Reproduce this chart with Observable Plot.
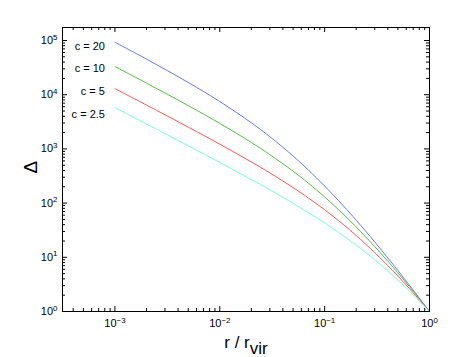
<!DOCTYPE html>
<html>
<head>
<meta charset="utf-8">
<script src="https://cdn.jsdelivr.net/npm/d3@7"></script>
<script src="https://cdn.jsdelivr.net/npm/@observablehq/plot@0.6"></script>
<style>
  html, body { margin: 0; padding: 0; background: #fff; }
  #chart svg { display: block; }
</style>
</head>
<body>
<div id="chart"></div>
<script>
// r / r_vir sample points
const rr = [0.001, 0.002, 0.005, 0.01, 0.02, 0.03, 0.05, 0.07, 0.1, 0.15, 0.2, 0.3, 0.4, 0.5, 0.7, 1];
// Delta read for each concentration
const deltaC20  = [93105, 45358, 16829, 7482.7, 3032.6, 1681.8, 738.56, 407.10, 206.46, 90.114, 48.362, 19.275, 9.7712, 5.6929, 2.4731, 1];
const deltaC10  = [33141, 16355, 6292.9, 2956.1, 1314.4, 786.0, 387.6, 232.77, 129.73, 62.947, 36.266, 15.829, 8.4950, 5.1501, 2.3586, 1];
const deltaC5   = [12956, 6435.1, 2523.9, 1221.9, 574.0, 360.43, 193.18, 124.25, 75.261, 40.512, 25.191, 12.223, 7.0419, 4.4947, 2.2094, 1];
const deltaC2_5 = [5784.1, 2882.5, 1141.6, 561.53, 271.86, 175.62, 99.122, 66.768, 42.980, 25.161, 16.744, 9.0134, 5.6045, 3.7940, 2.0316, 1];

const seriesNames = ["c = 20", "c = 10", "c = 5", "c = 2.5"];
const seriesColors = ["#6677ff", "#55bb44", "#ff5555", "#77ffcc"];
const labelX = [0.001, 0.001, 0.001, 0.001];
const labelY = [77400, 30600, 11500, 4330];

const xMajor = [1e-3, 1e-2, 1e-1, 1];
const yMajor = [1, 10, 100, 1000, 10000, 100000];

// build minor ticks lists
const xMinor = [];
[1e-4, 1e-3, 1e-2, 1e-1].forEach(d => { for (let k = 2; k <= 9; k++) { const v = k * d; if (v >= Math.pow(10, -3.5) && v < 1) xMinor.push(v); } });
const yMinor = [];
[1, 10, 100, 1000, 10000].forEach(d => { for (let k = 2; k <= 9; k++) yMinor.push(k * d); });

const allSeries = [deltaC20, deltaC10, deltaC5, deltaC2_5];
const rows = [];
allSeries.forEach((s, i) => s.forEach((v, j) => rows.push({r: rr[j], d: v, c: seriesNames[i]})));
const labels = seriesNames.map((n, i) => ({x: labelX[i], y: labelY[i], t: n}));

const W = 474, H = 357, mt = 27, mb = 46, ml = 62, mr = 45;
const ph = H - mt - mb;
const font = "'Liberation Sans', Arial, Helvetica, sans-serif";

const plot = Plot.plot({
  width: W, height: H,
  marginTop: mt, marginBottom: mb, marginLeft: ml, marginRight: mr,
  style: {fontFamily: font, background: "#fff", color: "#000", fontSize: "11px"},
  x: {type: "log", domain: [Math.pow(10, -3.5), 1], axis: null},
  y: {type: "log", domain: [1, Math.pow(10, 5.24)], axis: null},
  color: {domain: seriesNames, range: seriesColors},
  marks: [
    Plot.line(rows, {x: "r", y: "d", z: "c", stroke: "c", strokeWidth: 1, curve: "catmull-rom"}),
    // inward ticks, bottom and top
    Plot.tickX(xMajor, {x: d => d, insetTop: ph - 5, stroke: "#000"}),
    Plot.tickX(xMajor, {x: d => d, insetBottom: ph - 5, stroke: "#000"}),
    Plot.tickX(xMinor, {x: d => d, insetTop: ph - 3, stroke: "#000"}),
    Plot.tickX(xMinor, {x: d => d, insetBottom: ph - 3, stroke: "#000"}),
    // inward ticks, left and right
    Plot.tickY(yMajor, {y: d => d, insetRight: (W - ml - mr) - 5, stroke: "#000"}),
    Plot.tickY(yMajor, {y: d => d, insetLeft: (W - ml - mr) - 5, stroke: "#000"}),
    Plot.tickY(yMinor, {y: d => d, insetRight: (W - ml - mr) - 3, stroke: "#000"}),
    Plot.tickY(yMinor, {y: d => d, insetLeft: (W - ml - mr) - 3, stroke: "#000"}),
    Plot.frame({stroke: "#000", strokeWidth: 1}),
    Plot.axisX({ticks: xMajor, tickSize: 0, tickPadding: 8, label: null, fontSize: 11,
      tickFormat: d => "10^" + Math.round(Math.log10(d))}),
    Plot.axisY({ticks: yMajor, tickSize: 0, tickPadding: 5, label: null, fontSize: 11,
      tickFormat: d => "10^" + Math.round(Math.log10(d))}),
    Plot.text(labels, {x: "x", y: "y", text: "t", dx: -10, textAnchor: "end", fontSize: 11, fill: "#000"}),
    Plot.text(["r / r_vir"], {frameAnchor: "bottom", dy: 36, text: d => d, fontSize: 17, fill: "#000", className: "xlab"}),
    Plot.text(["Δ"], {frameAnchor: "left", dx: -32, dy: 4, text: d => d, fontSize: 19, rotate: -90, fill: "#000"})
  ]
});

// superscript exponents on tick labels
plot.querySelectorAll('g[aria-label="x-axis tick label"] text, g[aria-label="y-axis tick label"] text').forEach(t => {
  const parts = t.textContent.split("^");
  if (parts.length !== 2) return;
  t.textContent = "";
  const a = document.createElementNS("http://www.w3.org/2000/svg", "tspan");
  a.textContent = parts[0];
  const b = document.createElementNS("http://www.w3.org/2000/svg", "tspan");
  b.textContent = parts[1].replace("-", "\u2212");
  b.setAttribute("dy", "-0.55em");
  b.setAttribute("font-size", "0.72em");
  t.appendChild(a); t.appendChild(b);
});
// subscript in x label
plot.querySelectorAll('g.xlab text, .xlab text').forEach(t => {
  const parts = t.textContent.split("_");
  if (parts.length !== 2) return;
  t.textContent = "";
  const a = document.createElementNS("http://www.w3.org/2000/svg", "tspan");
  a.textContent = parts[0];
  const b = document.createElementNS("http://www.w3.org/2000/svg", "tspan");
  b.textContent = parts[1];
  b.setAttribute("dy", "0.4em");
  t.appendChild(a); t.appendChild(b);
});

document.getElementById("chart").appendChild(plot);
</script>
</body>
</html>
